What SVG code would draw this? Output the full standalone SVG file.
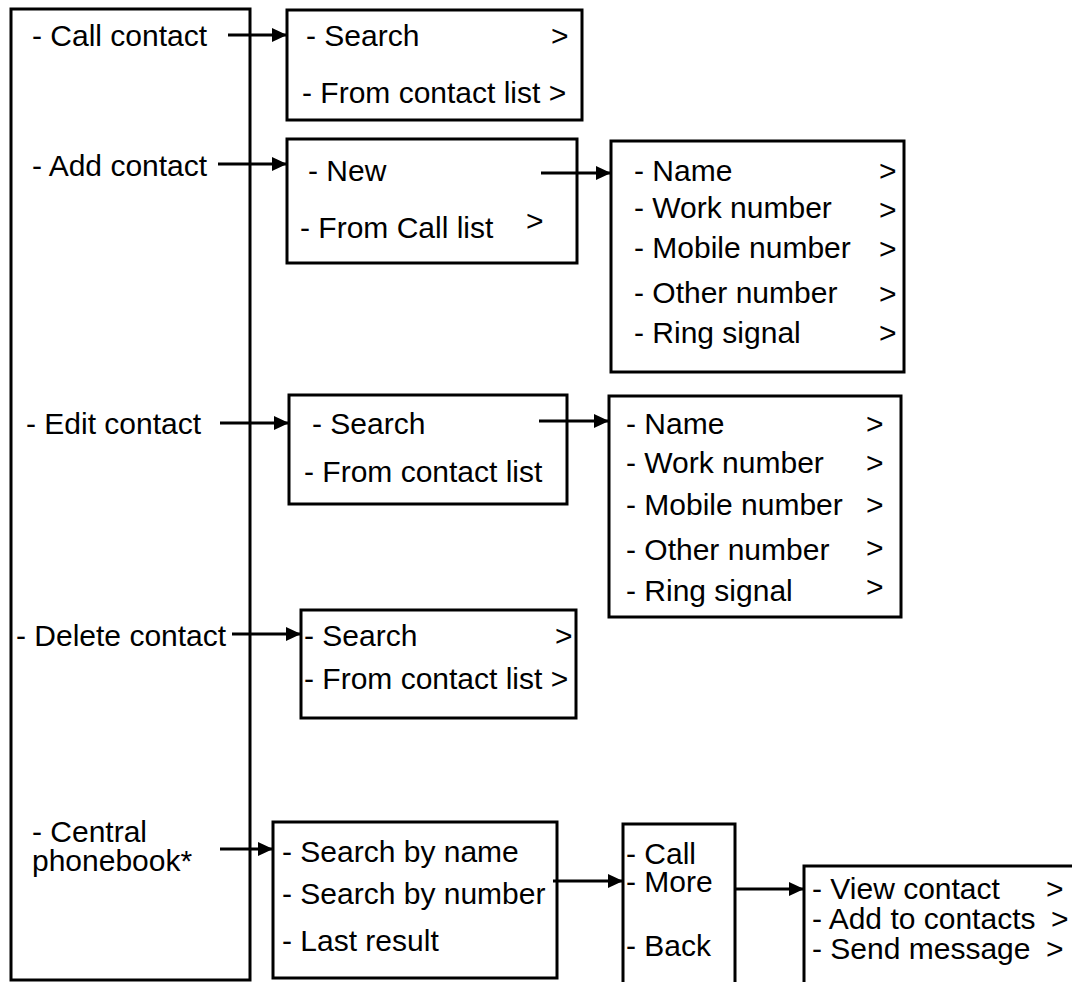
<svg xmlns="http://www.w3.org/2000/svg" width="1072" height="982" viewBox="0 0 1072 982">
<style>
  .box { fill: #ffffff; stroke: #000000; stroke-width: 3; }
  .t { font-family: "Liberation Sans", Arial, sans-serif; font-size: 30px; fill: #000000; }
  .c { stroke: #000000; stroke-width: 3; fill: none; marker-end: url(#ah); }
</style>
<defs>
  <marker id="ah" markerUnits="userSpaceOnUse" markerWidth="16" markerHeight="16" refX="15" refY="8" orient="auto">
    <path d="M0,1 L15,8 L0,15 Z" fill="#000000"/>
  </marker>
</defs>
<rect width="1072" height="982" fill="#ffffff"/>

<g id="main-menu">
  <rect class="box" x="11" y="9" width="239" height="971"/>
  <text class="t" x="32" y="46">- Call contact</text>
  <text class="t" x="32" y="176">- Add contact</text>
  <text class="t" x="26" y="434">- Edit contact</text>
  <text class="t" x="16" y="646">- Delete contact</text>
  <text class="t" x="32" y="842">- Central</text>
  <text class="t" x="32" y="871">phonebook*</text>
</g>

<g id="call-contact-menu">
  <rect class="box" x="287" y="10" width="295" height="110"/>
  <text class="t" x="306" y="46">- Search</text>
  <text class="t" x="551" y="46">&gt;</text>
  <text class="t" x="302" y="103">- From contact list &gt;</text>
</g>

<g id="add-contact-menu">
  <rect class="box" x="287" y="139" width="290" height="124"/>
  <text class="t" x="308" y="181">- New</text>
  <text class="t" x="300" y="238">- From Call list</text>
  <text class="t" x="526" y="231">&gt;</text>
</g>

<g id="new-contact-fields">
  <rect class="box" x="611" y="141" width="293" height="231"/>
  <text class="t" x="634" y="181">- Name</text>
  <text class="t" x="634" y="218">- Work number</text>
  <text class="t" x="634" y="258">- Mobile number</text>
  <text class="t" x="634" y="303">- Other number</text>
  <text class="t" x="634" y="343">- Ring signal</text>
  <text class="t" x="879" y="181">&gt;</text>
  <text class="t" x="879" y="220">&gt;</text>
  <text class="t" x="879" y="259">&gt;</text>
  <text class="t" x="879" y="304">&gt;</text>
  <text class="t" x="879" y="343">&gt;</text>
</g>

<g id="edit-contact-menu">
  <rect class="box" x="289" y="395" width="278" height="109"/>
  <text class="t" x="312" y="434">- Search</text>
  <text class="t" x="304" y="482">- From contact list</text>
</g>

<g id="edit-contact-fields">
  <rect class="box" x="609" y="396" width="292" height="221"/>
  <text class="t" x="626" y="434">- Name</text>
  <text class="t" x="626" y="473">- Work number</text>
  <text class="t" x="626" y="515">- Mobile number</text>
  <text class="t" x="626" y="560">- Other number</text>
  <text class="t" x="626" y="601">- Ring signal</text>
  <text class="t" x="866" y="434">&gt;</text>
  <text class="t" x="866" y="473">&gt;</text>
  <text class="t" x="866" y="515">&gt;</text>
  <text class="t" x="866" y="558">&gt;</text>
  <text class="t" x="866" y="597">&gt;</text>
</g>

<g id="delete-contact-menu">
  <rect class="box" x="301" y="610" width="275" height="108"/>
  <text class="t" x="304" y="646">- Search</text>
  <text class="t" x="555" y="646">&gt;</text>
  <text class="t" x="304" y="689">- From contact list &gt;</text>
</g>

<g id="central-phonebook-menu">
  <rect class="box" x="273" y="822" width="284" height="156"/>
  <text class="t" x="282" y="862">- Search by name</text>
  <text class="t" x="282" y="904">- Search by number</text>
  <text class="t" x="282" y="951">- Last result</text>
</g>

<g id="result-menu">
  <rect class="box" x="623" y="824" width="112" height="170"/>
  <text class="t" x="626" y="864">- Call</text>
  <text class="t" x="626" y="892">- More</text>
  <text class="t" x="626" y="956">- Back</text>
</g>

<g id="more-menu">
  <rect class="box" x="804" y="866" width="280" height="130"/>
  <text class="t" x="812" y="899">- View contact</text>
  <text class="t" x="1046" y="899">&gt;</text>
  <text class="t" x="812" y="929">- Add to contacts</text>
  <text class="t" x="1051" y="929">&gt;</text>
  <text class="t" x="812" y="959">- Send message</text>
  <text class="t" x="1046" y="959">&gt;</text>
</g>

<g id="connectors">
  <line class="c" x1="228" y1="35" x2="287" y2="35"/>
  <line class="c" x1="218" y1="164" x2="287" y2="164"/>
  <line class="c" x1="541" y1="173" x2="611" y2="173"/>
  <line class="c" x1="220" y1="423" x2="289" y2="423"/>
  <line class="c" x1="539" y1="421" x2="609" y2="421"/>
  <line class="c" x1="232" y1="634" x2="301" y2="634"/>
  <line class="c" x1="220" y1="849" x2="273" y2="849"/>
  <line class="c" x1="553" y1="881" x2="623" y2="881"/>
  <line class="c" x1="735" y1="889" x2="804" y2="889"/>
</g>
</svg>
